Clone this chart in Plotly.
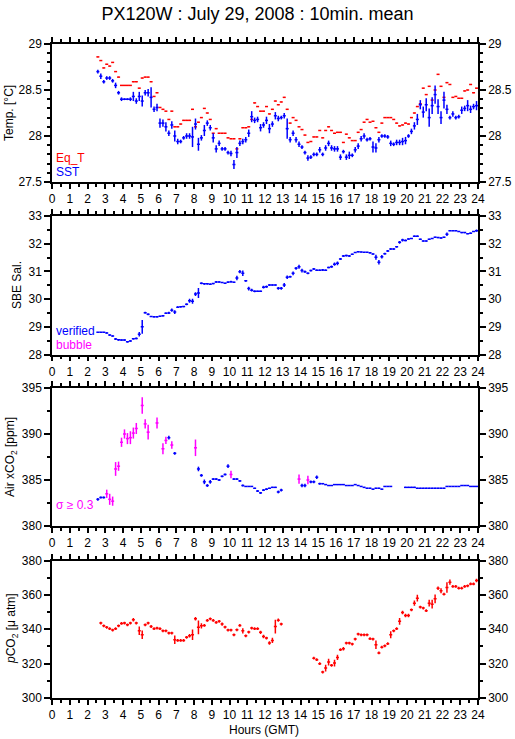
import plotly.graph_objects as go

# 10-min means, first one at 02:35 GMT, then hh:05 ... hh:55
SLOT_MIN = [5, 15, 25, 35, 45, 55]
hours = [2 + m / 60 for m in (35, 45, 55)]
for h in range(3, 24):
    hours += [h + m / 60 for m in SLOT_MIN]

# ---- panel 1 : temperatures [degC] (one line per hour) ----
eq_t = [
    28.86, 28.82, 28.74,
    28.78, 28.76, 28.80, 28.70, 28.64, 28.55,
    28.55, 28.55, 28.55, 28.59, 28.59, 28.52,
    28.63, 28.64, 28.64, 28.59, 28.43, 28.47,
    28.31, 28.29, 28.27, 28.18, 28.27, 28.10,
    28.10, 28.13, 28.17, 28.17, 28.17, 28.29,
    28.10, 28.15, 28.20, 28.30, 28.25, 28.18,
    28.03, 28.08, 28.03, 28.03, 28.03, 27.98,
    27.97, 27.97, 27.86, 27.97, 28.09, 28.09,
    28.10, 28.18, 28.36, 28.32, 28.27, 28.27,
    28.32, 28.24, 28.29, 28.38, 28.34, 28.37,
    28.42, 28.29, 28.14, 28.20, 28.17, 28.10,
    28.07, 28.01, 27.93, 27.94, 27.99, 27.99,
    28.06, 27.98, 28.06, 28.10, 28.06, 28.03,
    28.04, 28.04, 27.93, 28.02, 27.98, 27.95,
    27.95, 28.04, 28.07, 28.15, 28.18, 28.15,
    28.16, 28.09, 28.04, 28.14, 28.20, 28.20,
    28.20, 28.18, 28.14, 28.11, 28.12, 28.14,
    28.13, 28.20, 28.25, 28.32, 28.35, 28.52,
    28.45, 28.54, 28.39, 28.50, 28.67, 28.54,
    28.42, 28.58, 28.56, 28.42, 28.43, 28.41,
    28.41, 28.49, 28.50, 28.56, 28.47, 28.52,
]
sst = [
    28.70, 28.65, 28.59,
    28.63, 28.63, 28.60, 28.55, 28.47, 28.40,
    28.40, 28.40, 28.40, 28.43, 28.38, 28.43,
    28.38, 28.47, 28.47, 28.42, 28.29, 28.31,
    28.14, 28.14, 28.10, 28.03, 28.12, 28.00,
    27.94, 27.94, 27.98, 28.00, 28.00, 27.99,
    28.13, 27.91, 27.98, 28.06, 28.14, 28.09,
    27.98, 27.86, 27.92, 27.86, 27.86, 27.82,
    27.81, 27.69, 27.82, 27.92, 27.94, 27.96,
    28.03, 28.21, 28.17, 28.18, 28.09, 28.12,
    28.17, 28.08, 28.13, 28.22, 28.19, 28.20,
    28.22, 28.08, 27.96, 28.03, 27.96, 27.91,
    27.88, 27.82, 27.76, 27.77, 27.80, 27.80,
    27.85, 27.80, 27.87, 27.92, 27.87, 27.86,
    27.86, 27.77, 27.83, 27.77, 27.79, 27.79,
    27.85, 27.89, 27.97, 28.00, 27.96, 27.97,
    27.88, 27.87, 27.96, 28.00, 28.00, 27.99,
    27.92, 27.91, 27.93, 27.93, 27.94, 27.95,
    28.00, 28.05, 28.11, 28.18, 28.34, 28.26,
    28.34, 28.20, 28.33, 28.45, 28.32, 28.20,
    28.39, 28.29, 28.20, 28.24, 28.20, 28.21,
    28.28, 28.30, 28.33, 28.29, 28.32, 28.33,
]
sst_sd = [
    .02, .03, .02,
    .02, .02, .02, .03, .02, .02,
    .01, .01, .02, .05, .03, .05,
    .06, .03, .04, .11, .03, .04,
    .05, .04, .05, .03, .04, .06,
    .03, .02, .02, .03, .03, .11,
    .06, .07, .03, .06, .03, .03,
    .05, .04, .03, .02, .02, .02,
    .03, .05, .06, .03, .03, .03,
    .04, .06, .03, .03, .04, .03,
    .04, .05, .03, .04, .03, .02,
    .03, .11, .03, .03, .03, .03,
    .02, .02, .03, .02, .02, .02,
    .03, .02, .03, .03, .03, .03,
    .03, .03, .02, .03, .04, .02,
    .03, .03, .03, .03, .02, .02,
    .06, .05, .03, .02, .02, .02,
    .03, .02, .03, .03, .04, .04,
    .02, .03, .04, .06, .05, .06,
    .07, .10, .09, .10, .08, .07,
    .09, .05, .02, .03, .02, .02,
    .04, .03, .06, .04, .03, .05,
]

# ---- panel 2 : SBE salinity ----
sal = [
    28.80, 28.80, 28.80,
    28.78, 28.70, 28.67, 28.56, 28.53, 28.52,
    28.52, 28.46, 28.49, 28.57, 28.58, 28.73,
    29.00, 29.51, 29.45, 29.37, 29.36, 29.36,
    29.38, 29.40, 29.49, 29.50, 29.60, 29.53,
    29.71, 29.72, 29.73, 29.81, 29.94, 29.92,
    30.18, 30.22, 30.57, 30.55, 30.55, 30.54,
    30.56, 30.62, 30.62, 30.60, 30.57, 30.61,
    30.63, 30.61, 30.76, 30.99, 30.93, 30.66,
    30.38, 30.32, 30.28, 30.28, 30.28, 30.43,
    30.45, 30.51, 30.51, 30.51, 30.39, 30.39,
    30.51, 30.79, 30.81, 30.93, 31.11, 31.17,
    31.03, 30.99, 30.93, 31.03, 31.09, 31.04,
    31.04, 31.05, 31.04, 31.14, 31.17, 31.26,
    31.29, 31.45, 31.56, 31.57, 31.56, 31.62,
    31.68, 31.71, 31.70, 31.69, 31.69, 31.67,
    31.63, 31.51, 31.33, 31.53, 31.64, 31.74,
    31.81, 31.81, 31.89, 32.05, 32.13, 32.12,
    32.17, 32.19, 32.27, 32.27, 32.16, 32.10,
    32.10, 32.16, 32.19, 32.23, 32.22, 32.21,
    32.23, 32.34, 32.47, 32.47, 32.47, 32.44,
    32.40, 32.40, 32.36, 32.38, 32.44, 32.47,
]
sal_sd = [
    .01, .01, .01,
    .02, .02, .02, .04, .03, .02,
    .02, .03, .02, .03, .03, .08,
    .25, .03, .03, .02, .02, .02,
    .02, .03, .03, .04, .06, .07,
    .03, .02, .02, .03, .07, .09,
    .07, .18, .03, .03, .02, .02,
    .02, .03, .02, .02, .02, .03,
    .03, .02, .08, .06, .10, .03,
    .07, .05, .03, .02, .02, .05,
    .04, .03, .02, .02, .05, .05,
    .07, .06, .03, .07, .05, .07,
    .07, .04, .03, .03, .03, .03,
    .03, .04, .03, .03, .04, .06,
    .07, .03, .03, .03, .03, .02,
    .02, .02, .01, .01, .01, .02,
    .02, .09, .08, .06, .03, .03,
    .03, .03, .03, .05, .05, .03,
    .02, .02, .03, .03, .02, .02,
    .02, .02, .02, .02, .02, .02,
    .02, .06, .01, .01, .01, .02,
    .02, .02, .01, .02, .02, .04,
]

# ---- panel 3 : air xCO2 [ppm] ----
xco2 = [
    382.9, 383.1, 383.1,
    383.5, 382.9, 382.7, 386.2, 386.5, 389.1,
    390.0, 389.5, 389.6, 390.1, 390.6, None,
    393.1, 391.1, 390.2, None, None, 391.2,
    None, 388.4, 389.3, 389.6, 388.8, 387.9,
    None, None, None, None, None, None,
    388.5, 386.2, 385.5, 384.8, 384.4, 384.8,
    385.1, 385.1, 385.0, 385.4, 385.6, 386.5,
    385.6, 385.1, 385.1, 384.9, 384.4, 384.3,
    384.3, 384.3, 384.1, 383.8, 383.6, 383.9,
    384.0, 384.1, 384.2, 384.2, 383.7, 383.9,
    None, None, None, None, None, 385.1,
    384.4, 384.4, 385.0, 384.8, 384.8, 385.3,
    384.6, 384.6, 384.5, 384.4, 384.4, 384.5,
    384.5, 384.5, 384.5, 384.4, 384.4, 384.4,
    384.5, 384.4, 384.3, 384.2, 384.1, 384.1,
    384.0, 384.1, 384.1, 384.0, 384.3, 384.3,
    384.3, None, None, None, None, 384.2,
    384.2, 384.2, 384.2, 384.1, 384.1, 384.1,
    384.1, 384.1, 384.1, 384.1, 384.1, 384.1,
    384.1, 384.3, 384.3, 384.3, 384.3, 384.3,
    384.4, 384.4, 384.4, 384.3, 384.3, 384.3,
]
xco2_sd = [
    .15, .12, .10,
    .45, .60, .50, .75, .50, .50,
    .50, .60, .70, .60, .60, None,
    .90, .50, .80, None, None, .60,
    None, .60, .40, .20, .40, .15,
    None, None, None, None, None, None,
    .90, .25, .15, .25, .15, .20,
    .10, .10, .10, .10, .10, .20,
    .40, .10, .10, .10, .10, .05,
    .05, .05, .05, .10, .10, .10,
    .10, .05, .05, .05, .15, .15,
    None, None, None, None, None, .50,
    .20, .20, .45, .15, .15, .20,
    .10, .05, .05, .05, .05, .05,
    .05, .05, .05, .05, .05, .05,
    .05, .05, .05, .05, .05, .05,
    .05, .05, .05, .05, .05, .05,
    .05, None, None, None, None, .05,
    .05, .05, .05, .05, .05, .05,
    .05, .05, .05, .05, .05, .05,
    .05, .05, .05, .05, .05, .05,
    .05, .05, .05, .05, .05, .05,
]
SIGMA_LIMIT = 0.3

# ---- panel 4 : pCO2 [uatm] ----
pco2 = [
    None, 343.6, 342.0,
    341.1, 340.3, 339.5, 340.3, 342.0, 343.4,
    343.6, 342.6, 343.6, 345.5, 343.6, 339.1,
    336.8, 342.6, 343.6, 341.6, 340.3, 340.7,
    340.3, 339.1, 339.1, 337.8, 337.8, 333.9,
    333.5, 333.5, 333.5, 335.3, 336.2, 336.8,
    346.1, 341.1, 342.0, 342.2, 345.1, 346.1,
    345.1, 344.0, 344.6, 343.0, 341.3, 339.5,
    339.5, 336.8, 339.7, 342.2, 339.1, 336.2,
    338.4, 340.7, 340.3, 340.3, 338.2, 335.8,
    334.9, 332.0, 333.5, 341.6, 345.3, 343.0,
    None, None, None, None, None, None,
    None, None, None, None, 323.2, 322.3,
    320.0, 315.1, 317.4, 320.9, 319.0, 320.3,
    323.6, 328.1, 328.7, 332.0, 332.0, 331.4,
    334.3, 337.2, 336.8, 336.8, 336.8, 334.5,
    334.3, 331.0, 326.2, 329.6, 330.4, 331.6,
    336.8, 339.1, 340.3, 344.6, 349.8, 348.0,
    348.0, 351.3, 355.2, 358.1, 352.9, 352.3,
    350.8, 355.2, 354.6, 357.7, 363.9, 362.4,
    360.4, 364.3, 367.4, 364.9, 364.9, 363.9,
    363.9, 364.9, 365.3, 366.4, 366.4, 368.4,
]
pco2_sd = [
    None, .8, .8,
    .8, .8, .8, .8, .8, .8,
    .8, .8, .8, 1.0, .8, 2.5,
    2.5, .8, .8, .8, .8, .8,
    .8, .8, .8, .8, .8, 2.5,
    .8, .8, .8, .8, 1.0, 3.0,
    1.0, 4.0, 1.5, .8, .8, .8,
    .8, .8, .8, 1.0, .8, .8,
    .8, .8, .8, .8, 1.5, .8,
    .8, .8, .8, .8, 1.0, 1.0,
    .8, 1.0, 1.5, 4.0, 1.0, .8,
    None, None, None, None, None, None,
    None, None, None, None, .8, .8,
    .8, .8, 2.0, 2.0, .8, 2.0,
    1.5, .8, 1.0, .8, .8, .8,
    .8, .8, .8, .8, .8, .8,
    .8, 2.5, .8, .8, .8, .8,
    2.0, .8, .8, 2.0, 1.0, 1.0,
    1.0, .8, 1.5, 2.0, .8, .8,
    .8, 2.0, 2.5, 2.5, 1.0, 1.5,
    .8, 3.0, 1.5, .8, .8, .8,
    .8, .8, .8, .8, .8, 1.0,
]

BLUE = '#0000ff'
RED = '#ff0000'
MAGENTA = '#ff00ff'
FONT = 'Liberation Sans, Arial, Helvetica, sans-serif'
HALF_SLOT = 0.085  # half width of the 10-min bar, in hours

# pixel geometry of the 515x739 page
W, H = 515, 739
ML, MR, MT, MB = 52, 37, 44, 41
PW, PH = W - ML - MR, H - MT - MB


def py(pix):
    """page pixel row -> paper y"""
    return (H - MB - pix) / PH


def px(pix):
    return (pix - ML) / PW


panels = [  # top, bottom pixel rows, y range, major, minor
    dict(top=44, bot=182, rng=[27.5, 29], dt=0.5, mdt=0.1),
    dict(top=216, bot=354.5, rng=[28, 33], dt=1, mdt=0.5),
    dict(top=388, bot=526, rng=[380, 395], dt=5, mdt=2.5),
    dict(top=560.5, bot=698, rng=[300, 380], dt=20, mdt=10),
]


def crosses(t, v, sd, color, k, show_y=True):
    pts = [(a, b, c) for a, b, c in zip(t, v, sd) if b is not None]
    return go.Scatter(
        x=[p[0] for p in pts], y=[p[1] for p in pts],
        mode='markers',
        marker=dict(size=1, color=color),
        error_x=dict(type='constant', value=HALF_SLOT, color=color,
                     thickness=1.5, width=0),
        error_y=dict(type='data', array=[p[2] or 0 for p in pts],
                     color=color, thickness=1.5, width=0, visible=show_y),
        xaxis='x' if k == 1 else f'x{k}',
        yaxis='y' if k == 1 else f'y{k}',
        hoverinfo='skip', showlegend=False,
    )


fig = go.Figure()

fig.add_trace(crosses(hours, eq_t, [0] * len(eq_t), RED, 1, show_y=False))
fig.add_trace(crosses(hours, sst, sst_sd, BLUE, 1))
fig.add_trace(crosses(hours, sal, sal_sd, BLUE, 2))

ok = [v if (s is not None and s < SIGMA_LIMIT) else None for v, s in zip(xco2, xco2_sd)]
bad = [v if (s is not None and s >= SIGMA_LIMIT) else None for v, s in zip(xco2, xco2_sd)]
fig.add_trace(crosses(hours, ok, xco2_sd, BLUE, 3))
fig.add_trace(crosses(hours, bad, xco2_sd, MAGENTA, 3))

fig.add_trace(crosses(hours, pco2, pco2_sd, RED, 4))

axis_line = dict(showline=True, linecolor='black', linewidth=1.5,
                 ticks='outside', tickwidth=1.5, tickcolor='black',
                 showgrid=False, zeroline=False, automargin=False,
                 tickfont=dict(family=FONT, size=12, color='black'))

layout = {}
for i, p in enumerate(panels, start=1):
    sfx = '' if i == 1 else str(i)
    dom = [py(p['bot']), py(p['top'])]
    layout[f'xaxis{sfx}'] = dict(
        domain=[0, 1], anchor=f'y{sfx}', range=[0, 24],
        tickmode='linear', tick0=0, dtick=1, ticklen=5,
        minor=dict(tick0=0, dtick=0.5, ticklen=3, tickwidth=1.5,
                   ticks='outside', showgrid=False),
        mirror='ticks', **axis_line)
    ymin = dict(tick0=p['rng'][0], dtick=p['mdt'], ticklen=3,
                tickwidth=1.5, ticks='outside', showgrid=False)
    layout[f'yaxis{sfx}'] = dict(
        domain=dom, anchor=f'x{sfx}', range=p['rng'], side='left',
        tickmode='linear', tick0=p['rng'][0], dtick=p['dt'], ticklen=6,
        minor=ymin, **axis_line)
    layout[f'yaxis{i + 4}'] = dict(
        overlaying=f'y{sfx}', anchor=f'x{sfx}', range=p['rng'],
        side='right', tickmode='linear', tick0=p['rng'][0],
        dtick=p['dt'], ticklen=6, minor=ymin, **axis_line)
    # keep the right-hand axis alive
    fig.add_trace(go.Scatter(x=[-5], y=[p['rng'][0]], mode='markers',
                             marker=dict(opacity=0), showlegend=False,
                             hoverinfo='skip',
                             xaxis=f'x{sfx}', yaxis=f'y{i + 4}'))

fig.update_layout(**layout)


def note(text, x_pix, y_pix, color='black', size=12, angle=0, anchor='center'):
    fig.add_annotation(text=text, x=px(x_pix), y=py(y_pix),
                       xref='paper', yref='paper', showarrow=False,
                       xanchor=anchor, yanchor='middle', textangle=angle,
                       font=dict(family=FONT, size=size, color=color))


# y titles
note('Temp. [°C]', 9, 113, angle=-90)
note('SBE Sal.', 17, 285, angle=-90)
note('Air xCO<sub>2</sub> [ppm]', 11, 457, angle=-90)
note('<i>p</i>CO<sub>2</sub> [μ atm]', 12, 629, angle=-90)

# in-panel legends
note('Eq_T', 54, 158, color=RED, anchor='left')
note('SST', 54, 172.5, color=BLUE, anchor='left')
note('verified', 54, 331, color=BLUE, anchor='left')
note('bubble', 54, 345.5, color=MAGENTA, anchor='left')
note('σ ≥ 0.3', 54, 505, color=MAGENTA, anchor='left')

note('Hours (GMT)', 264, 730)

fig.update_layout(
    width=W, height=H,
    margin=dict(l=ML, r=MR, t=MT, b=MB),
    title=dict(text='PX120W : July 29, 2008 : 10min. mean',
               x=0.5, xanchor='center', y=1 - 14 / H, yanchor='middle',
               font=dict(family=FONT, size=18, color='black')),
    paper_bgcolor='white', plot_bgcolor='white',
    showlegend=False,
)

# the page body has a default margin; drop it so the figure sits at 0,0
fig.write_html('out.html', config={'displayModeBar': False},
               post_script="document.body.style.margin='0';")
